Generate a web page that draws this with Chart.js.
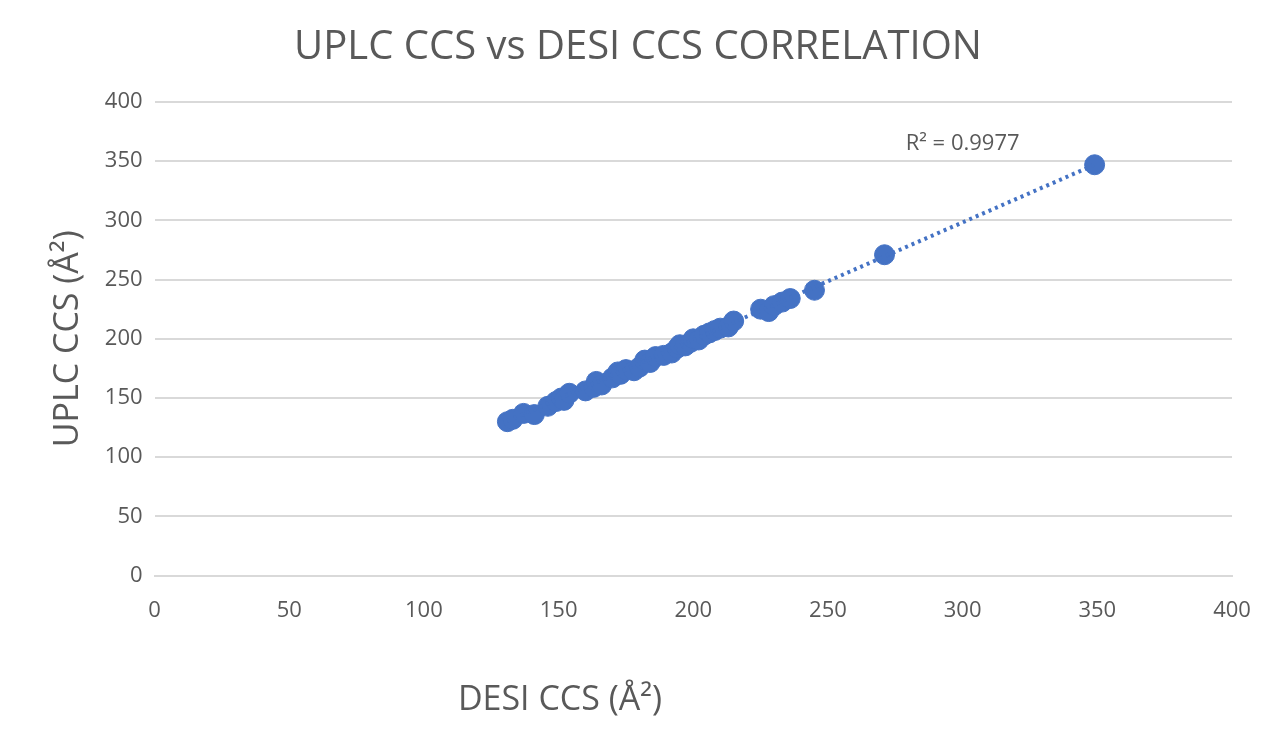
<!DOCTYPE html>
<html>
<head>
<meta charset="utf-8">
<script src="https://cdn.jsdelivr.net/npm/chart.js@4"></script>
<style>
  body { margin: 0; background: #fff; }
  #wrap { width: 1280px; height: 752px; }
</style>
</head>
<body>
<div id="wrap"><canvas id="chart"></canvas></div>
<script>
// DESI CCS (x) vs UPLC CCS (y)
const desiCCS = [131, 133, 137, 141, 146, 149, 151, 152, 154, 160, 163, 164, 166, 170, 172, 173, 175, 178, 180, 182, 184, 186, 189, 192, 194, 195, 197, 199, 200, 202, 204, 206, 208, 210, 213, 215, 225, 228, 230, 233, 236, 245, 271, 349];
const uplcCCS = [130, 132, 137, 136, 143, 147, 150, 148, 154, 156, 159, 164, 161, 167, 172, 170, 174, 173, 176, 182, 180, 185, 186, 188, 192, 195, 194, 197, 200, 199, 203, 205, 207, 209, 210, 215, 225, 223, 228, 231, 234, 241, 271, 347];
const trendX = [131, 349];
const trendY = [130.5, 347];
const yTicks = [0, 50, 100, 150, 200, 250, 300, 350, 400];

const grey = '#595959';

const extraText = {
  id: 'extraText',
  afterDraw(chart) {
    const { ctx, scales } = chart;
    ctx.save();
    ctx.fillStyle = grey;
    ctx.font = '22px "Open Sans", sans-serif';
    ctx.textAlign = 'center';
    ctx.textBaseline = 'middle';
    ctx.fillText('R² = 0.9977', scales.x.getPixelForValue(300), scales.y.getPixelForValue(365));
    ctx.font = '34px "Open Sans", sans-serif';
    ctx.fillText('DESI CCS (Å²)', 560, 700);
    ctx.restore();
  }
};

new Chart(document.getElementById('chart'), {
  type: 'scatter',
  data: {
    datasets: [
      {
        type: 'line',
        data: trendX.map((x, i) => ({ x, y: trendY[i] })),
        borderColor: '#4472C4',
        borderWidth: 4,
        borderDash: [3, 4],
        pointRadius: 0,
        fill: false
      },
      {
        data: desiCCS.map((x, i) => ({ x, y: uplcCCS[i] })),
        backgroundColor: '#4472C4',
        borderColor: '#4472C4',
        pointRadius: 10
      }
    ]
  },
  plugins: [extraText],
  options: {
    responsive: true,
    maintainAspectRatio: false,
    animation: false,
    layout: { padding: { left: 44, right: 48, top: 18, bottom: 114 } },
    plugins: {
      legend: { display: false },
      tooltip: { enabled: false },
      title: {
        display: true,
        text: 'UPLC CCS vs DESI CCS CORRELATION',
        color: grey,
        font: { family: '"Open Sans", sans-serif', size: 40, weight: 'normal' },
        padding: { top: 6, bottom: 30 }
      }
    },
    scales: {
      x: {
        type: 'linear',
        min: 0, max: 400,
        ticks: { stepSize: 50, color: grey, font: { family: '"Open Sans", sans-serif', size: 22 }, padding: 14 },
        grid: { display: false },
        border: { color: '#d9d9d9', width: 2 }
      },
      y: {
        min: 0, max: 400,
        afterBuildTicks(axis) { axis.ticks = yTicks.map(v => ({ value: v })); },
        ticks: { color: grey, font: { family: '"Open Sans", sans-serif', size: 22 }, padding: 12 },
        grid: { color: '#d9d9d9', lineWidth: 2, drawTicks: false },
        border: { display: false },
        title: { display: true, text: 'UPLC CCS (Å²)', color: grey, font: { family: '"Open Sans", sans-serif', size: 34 }, padding: 4 }
      }
    }
  }
});
</script>
</body>
</html>
